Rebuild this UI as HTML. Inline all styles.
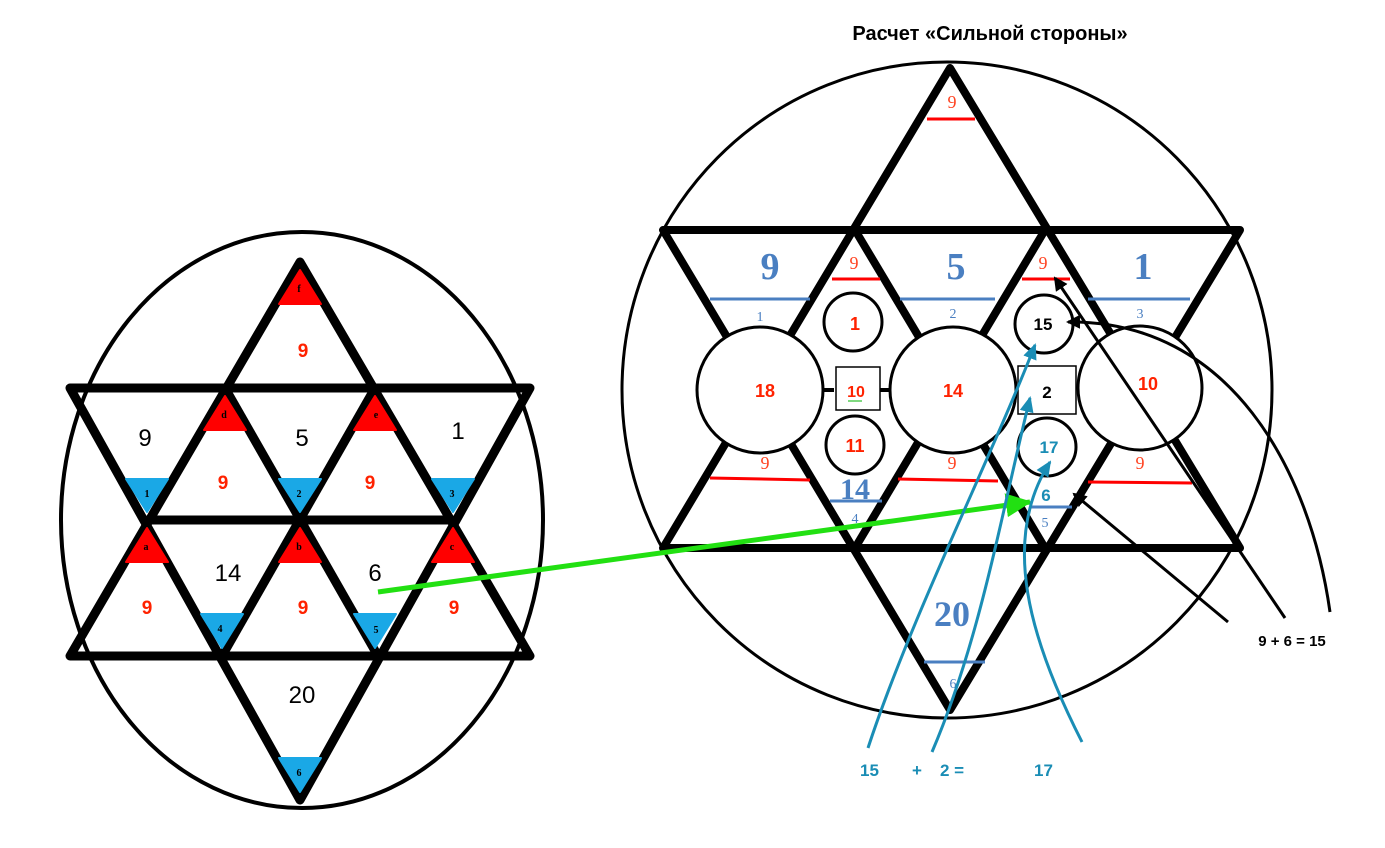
<!DOCTYPE html>
<html><head><meta charset="utf-8"><style>html,body{margin:0;padding:0;background:#fff;}svg{display:block}</style></head>
<body>
<svg width="1385" height="848" viewBox="0 0 1385 848" xmlns="http://www.w3.org/2000/svg" font-family="'Liberation Sans',sans-serif">
<defs>
<marker id="ab" markerWidth="14" markerHeight="14" refX="12" refY="7" orient="auto" markerUnits="userSpaceOnUse" viewBox="0 0 14 14"><path d="M0,0 L14,7 L0,14 z" fill="#000"/></marker>
<marker id="at" markerWidth="16" markerHeight="16" refX="14" refY="8" orient="auto" markerUnits="userSpaceOnUse" viewBox="0 0 16 16"><path d="M0,1 L16,8 L0,15 z" fill="#1a8db5"/></marker>
<marker id="ag" markerWidth="26" markerHeight="26" refX="24" refY="13" orient="auto" markerUnits="userSpaceOnUse" viewBox="0 0 26 26"><path d="M0,1 L26,13 L0,25 z" fill="#22e012"/></marker>
</defs>
<text x="990" y="40" font-size="20" font-weight="bold" text-anchor="middle">Расчет «Сильной стороны»</text>

<!-- LEFT STAR -->
<ellipse cx="302" cy="520" rx="241" ry="288" fill="none" stroke="#000" stroke-width="4"/>
<g fill="none" stroke="#000" stroke-width="9" stroke-linejoin="round">
<path d="M300,262 L530,656 L70,656 z"/>
<path d="M70,388 L530,388 L300,800 z"/>
<path d="M147,520 L453,520"/>
<path d="M225,388 L378,656"/>
<path d="M375,388 L222,656"/>
</g>
<g fill="#f00" stroke="#f00" stroke-width="2" stroke-linejoin="round">
<path d="M300,270 L321,304 L279,304 z"/>
<path d="M225,396 L246,430 L204,430 z"/>
<path d="M375,396 L396,430 L354,430 z"/>
<path d="M147,528 L168,562 L126,562 z"/>
<path d="M300,528 L321,562 L279,562 z"/>
<path d="M453,528 L474,562 L432,562 z"/>
</g>
<g fill="#1aa8e6" stroke="#1aa8e6" stroke-width="2" stroke-linejoin="round">
<path d="M126,479 L168,479 L147,512 z"/>
<path d="M279,479 L321,479 L300,512 z"/>
<path d="M432,479 L474,479 L453,512 z"/>
<path d="M201,614 L243,614 L222,648 z"/>
<path d="M354,614 L396,614 L375,648 z"/>
<path d="M279,758 L321,758 L300,792 z"/>
</g>
<g font-family="'Liberation Serif',serif" font-size="10" font-weight="bold" text-anchor="middle">
<text x="299" y="292">f</text><text x="224" y="418">d</text><text x="376" y="418">e</text>
<text x="146" y="550">a</text><text x="299" y="550">b</text><text x="452" y="550">c</text>
<text x="147" y="497">1</text><text x="299" y="497">2</text><text x="452" y="497">3</text>
<text x="220" y="632">4</text><text x="376" y="633">5</text><text x="299" y="776">6</text>
</g>
<g font-size="24" text-anchor="middle">
<text x="145" y="446">9</text><text x="302" y="446">5</text><text x="458" y="439">1</text>
<text x="228" y="581">14</text><text x="375" y="581">6</text><text x="302" y="703">20</text>
</g>
<g font-size="19" font-weight="bold" fill="#ff2200" text-anchor="middle">
<text x="303" y="357">9</text><text x="223" y="489">9</text><text x="370" y="489">9</text>
<text x="147" y="614">9</text><text x="303" y="614">9</text><text x="454" y="614">9</text>
</g>

<!-- RIGHT STAR -->
<ellipse cx="947" cy="390" rx="325" ry="328" fill="none" stroke="#000" stroke-width="3"/>
<g fill="none" stroke="#000" stroke-width="8" stroke-linejoin="round">
<path d="M950,68 L1240,548 L663,548 z"/>
<path d="M663,230 L1240,230 L950,710 z"/>
<path d="M855,230 L1045,548"/>
<path d="M1045,230 L855,548"/>
</g>
<g stroke="#f00" stroke-width="3">
<path d="M927,119 L975,119"/><path d="M832,279 L880,279"/><path d="M1022,279 L1070,279"/>
<path d="M710,478 L810,480"/><path d="M898,479 L998,481"/><path d="M1088,482 L1192,483"/>
</g>
<g stroke="#4a7fc1" stroke-width="3">
<path d="M710,299 L810,299"/><path d="M900,299 L995,299"/><path d="M1088,299 L1190,299"/>
<path d="M830,501 L882,501"/><path d="M1030,507 L1072,507"/><path d="M924,662 L985,662"/>
</g>
<g fill="#fff" stroke="#000" stroke-width="3">
<circle cx="760" cy="390" r="63"/><circle cx="953" cy="390" r="63"/><circle cx="1140" cy="388" r="62"/>
<circle cx="853" cy="322" r="29"/><circle cx="855" cy="445" r="29"/>
<circle cx="1044" cy="324" r="29"/><circle cx="1047" cy="447" r="29"/>
</g>
<path d="M824,390 L834,390 M880,390 L890,390" stroke="#000" stroke-width="4"/>
<rect x="836" y="367" width="44" height="43" fill="#fff" stroke="#000" stroke-width="1.5"/>
<rect x="1018" y="366" width="58" height="48" fill="#fff" stroke="#000" stroke-width="1.5"/>
<path d="M848,401 L862,401" stroke="#5c5" stroke-width="1.5"/>
<g font-size="18" font-weight="bold" fill="#ff2200" text-anchor="middle">
<text x="765" y="397">18</text><text x="953" y="397">14</text><text x="1148" y="390">10</text>
<text x="855" y="330">1</text><text x="855" y="452">11</text><text x="856" y="397" font-size="16">10</text>
</g>
<g font-size="17" font-weight="bold" text-anchor="middle">
<text x="1043" y="330">15</text><text x="1047" y="398">2</text>
<text x="1049" y="453" fill="#1a8db5">17</text><text x="1046" y="501" fill="#1a8db5">6</text>
</g>
<g font-family="'Liberation Serif',serif" fill="#ff4422" text-anchor="middle" font-size="18">
<text x="952" y="108">9</text><text x="854" y="269">9</text><text x="1043" y="269">9</text>
<text x="765" y="469">9</text><text x="952" y="469">9</text><text x="1140" y="469">9</text>
</g>
<g font-family="'Liberation Serif',serif" fill="#4a7fc1" text-anchor="middle" font-weight="bold">
<text x="770" y="279" font-size="38">9</text><text x="956" y="279" font-size="38">5</text><text x="1143" y="279" font-size="38">1</text>
<text x="855" y="499" font-size="30">14</text><text x="952" y="626" font-size="36">20</text>
</g>
<g font-family="'Liberation Serif',serif" fill="#4a7fc1" text-anchor="middle" font-size="14">
<text x="760" y="321">1</text><text x="953" y="318">2</text><text x="1140" y="318">3</text>
<text x="855" y="523">4</text><text x="1045" y="527">5</text><text x="953" y="688">6</text>
</g>

<path d="M378,592 L1030,502" stroke="#22e012" stroke-width="5" marker-end="url(#ag)"/>
<g fill="none" stroke="#1a8db5" stroke-width="3" marker-end="url(#at)">
<path d="M868,748 C910,620 990,460 1035,345"/>
<path d="M932,752 C980,640 1000,520 1030,398"/>
<path d="M1082,742 C1030,640 1000,540 1050,462"/>
</g>
<g fill="none" stroke="#000" stroke-width="3" marker-end="url(#ab)">
<path d="M1228,622 L1074,494"/>
<path d="M1285,618 L1055,278"/>
<path d="M1330,612 C1310,470 1230,320 1068,322"/>
</g>
<text x="1292" y="646" font-size="15" font-weight="bold" text-anchor="middle">9 + 6 = 15</text>
<g font-size="17" font-weight="bold" fill="#1a8db5">
<text x="860" y="776">15</text><text x="912" y="776">+</text><text x="940" y="776">2 =</text><text x="1034" y="776">17</text>
</g>
</svg>
</body></html>
